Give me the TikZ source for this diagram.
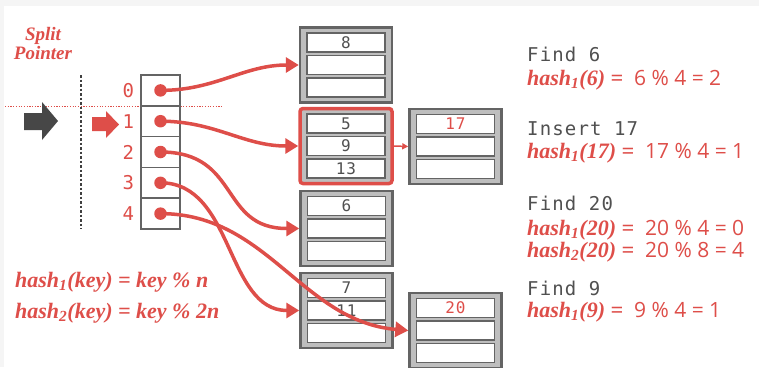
\documentclass[tikz,border=0pt]{standalone}
\usepackage{fontspec}
\setmainfont{Liberation Serif}
\setsansfont{Open Sans}
\setmonofont{DejaVu Sans Mono}[LetterSpace=6]
\usepackage{tikz}
\usetikzlibrary{arrows.meta,positioning}

\definecolor{hashred}{RGB}{222,78,73}
\definecolor{edgegray}{RGB}{100,100,100}
\definecolor{fillgray}{RGB}{190,190,190}
\definecolor{textgray}{RGB}{80,80,80}

\tikzset{
  dircell/.style={draw=edgegray, line width=1.5pt, fill=white, minimum width=39pt, minimum height=30.8pt, inner sep=0pt},
  dirdot/.style={circle, fill=hashred, minimum size=12.5pt, inner sep=0pt},
  idx/.style={text=hashred, font=\ttfamily\fontsize{19}{19}\selectfont, inner sep=1pt},
  bucketbox/.style={draw=edgegray, line width=2.5pt, fill=fillgray, minimum width=92pt, minimum height=75pt, inner sep=0pt},
  slot/.style={draw=edgegray, line width=1.5pt, fill=white, minimum width=78pt, minimum height=19pt, inner sep=0pt, text=textgray, font=\ttfamily\fontsize{16}{16}\selectfont},
  link/.style={hashred, line width=3.5pt, -{Triangle[length=13pt,width=15pt]}},
  overflow/.style={hashred, line width=1.5pt, -{Triangle[length=6pt,width=6pt]}},
  op/.style={anchor=west, inner sep=0pt, text=textgray, font=\ttfamily\fontsize{19}{19}\selectfont},
  calc/.style={anchor=west, inner sep=0pt, text=hashred, font=\fontsize{22}{22}\selectfont\bfseries\itshape},
}

% bucket with three slots: [options] name, centre, slot texts
\newcommand{\bucket}[6][]{%
  \node[bucketbox,#1] (#2) at (#3) {};
  \node[slot] (#2-1) at ([yshift=22.5pt]#2.center) {#4};
  \node[slot] (#2-2) at (#2.center) {#5};
  \node[slot] (#2-3) at ([yshift=-22.5pt]#2.center) {#6};
}
\newcommand{\res}[1]{\ {\sffamily\mdseries\upshape\fontsize{21}{21}\selectfont\ #1}}

\begin{document}
\begin{tikzpicture}[x=1pt,y=-1pt]
  \useasboundingbox (0,0) rectangle (759,367);
  \fill[gray!8] (0,0) rectangle (759,367);
  \fill[white] (4,6) rectangle (759,367);

  % Split pointer
  \node[calc, anchor=center, align=center, font=\fontsize{19}{19}\selectfont\bfseries\itshape] (split) at (43,43) {Split\\Pointer};
  \draw[hashred, line width=1pt, dash pattern=on 1.2pt off 1.5pt] (5,106) -- (222,106);
  \draw[black!75, line width=2.5pt, dash pattern=on 2.5pt off 2pt] (81,75) -- (81,229);
  \fill[black!72] (24,113) -- (42,113) -- (42,102) -- (58,121) -- (42,140) -- (42,130) -- (24,130) -- cycle;
  \fill[hashred] (92,117) -- (106,117) -- (106,111) -- (119,124.5) -- (106,138) -- (106,131) -- (92,131) -- cycle;

  % Directory
  \foreach \i in {0,...,4} {
    \node[dircell] (d\i) at (160.5,{90.4+30.8*\i}) {};
    \node[idx, left=5pt of d\i] (l\i) {\i};
  }

  % Buckets
  \bucket{a}{346,65}{8}{}{}
  \bucket[draw=hashred, line width=3.5pt, rounded corners=3pt]{b}{346,146}{5}{9}{13}
  \bucket{c}{346.5,228.5}{6}{}{}
  \bucket{d}{346.5,310.5}{7}{11}{}
  \bucket{f}{455.5,146.5}{\textcolor{hashred}{17}}{}{}
  \bucket{e}{455.5,330.5}{\textcolor{hashred}{20}}{}{}

  % Pointers
  \foreach \i in {0,...,4}
    \node[dirdot] (p\i) at (d\i.center) {};
  \draw[link] (p0.center) to[out=0,in=180] (a.west);
  \draw[link] (p1.center) to[out=0,in=180] (b.west);
  \draw[link] (p2.center) to[out=0,in=180,looseness=1.3] (c.west);
  \draw[link] (p3.center) to[out=0,in=180] (d.west);
  \draw[link] (p4.center) to[out=0,in=175] (e.west);
  \draw[overflow] (b.east) -- (f.west);

  % Hash functions
  \node[calc] (h1) at (15,282) {hash\textsubscript{1}(key) = key \% n};
  \node[calc] (h2) at (15,313) {hash\textsubscript{2}(key) = key \% 2n};

  % Operations
  \node[op] (f6) at (527,54) {Find 6};
  \node[calc] (h6) at (527,80) {hash\textsubscript{1}(6) =\res{6 \% 4 = 2}};
  \node[op] (i17) at (527,129) {Insert 17};
  \node[calc] (h17) at (527,153) {hash\textsubscript{1}(17) =\res{17 \% 4 = 1}};
  \node[op] (f20) at (527,203) {Find 20};
  \node[calc] (h20a) at (527,230) {hash\textsubscript{1}(20) =\res{20 \% 4 = 0}};
  \node[calc] (h20b) at (527,252) {hash\textsubscript{2}(20) =\res{20 \% 8 = 4}};
  \node[op] (f9) at (527,288) {Find 9};
  \node[calc] (h9) at (527,312) {hash\textsubscript{1}(9) =\res{9 \% 4 = 1}};
\end{tikzpicture}
\end{document}
